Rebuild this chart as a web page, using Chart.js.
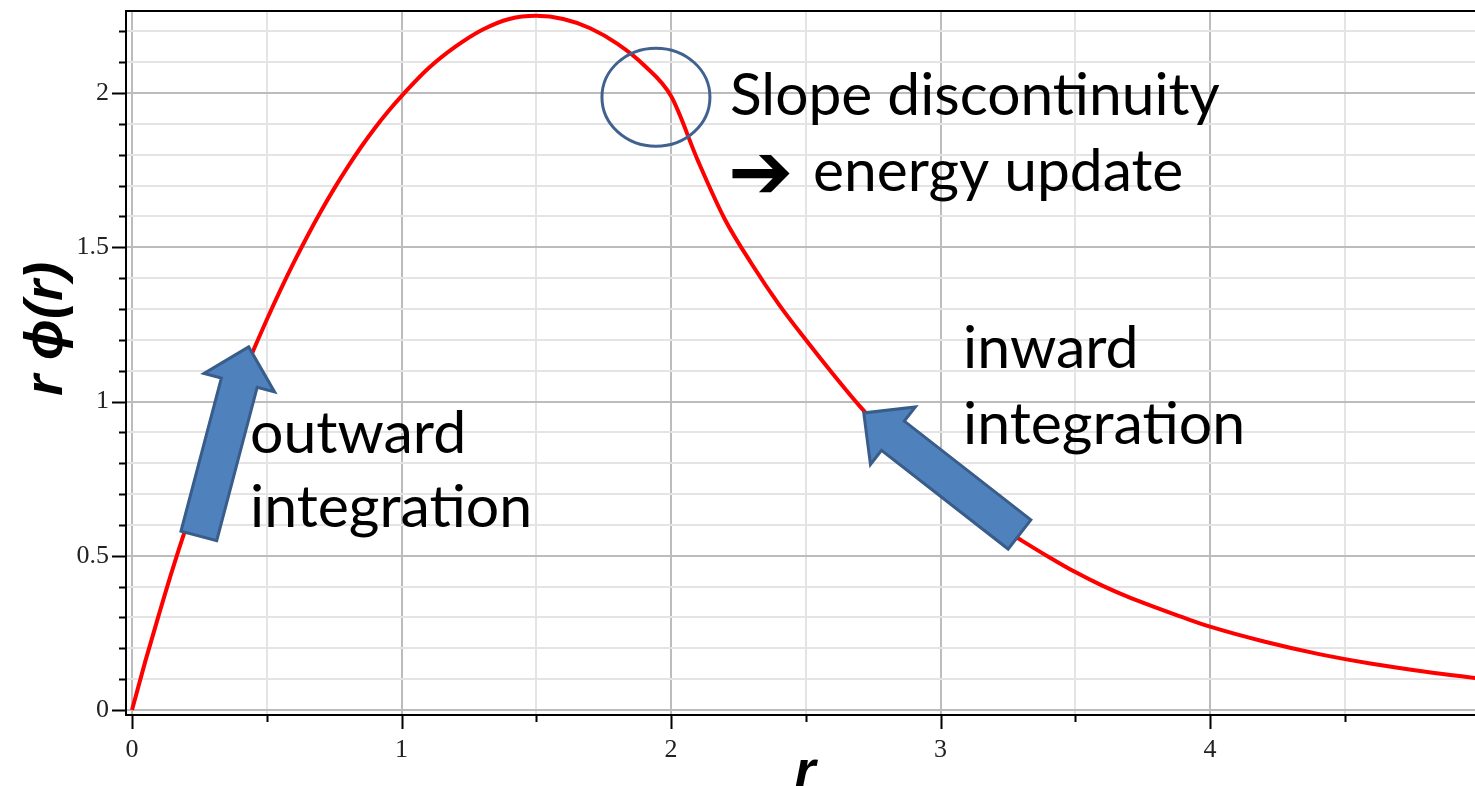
<!DOCTYPE html>
<html>
<head>
<meta charset="utf-8">
<title>r phi(r)</title>
<script src="https://cdn.jsdelivr.net/npm/chart.js@4.4.1/dist/chart.umd.min.js"></script>
<style>
    html, body { margin: 0; padding: 0; background: #fff; }
    canvas { display: block; }
</style>
</head>
<body>
<canvas id="myChart" width="1475" height="786"></canvas>
<script>
// radial grid and r*phi(r) from the shooting solution
let r_values = [0, 0.05, 0.1, 0.15, 0.2, 0.25, 0.3, 0.35, 0.4, 0.45, 0.5, 0.55, 0.6, 0.65, 0.7, 0.75, 0.8, 0.85, 0.9, 0.95,
    1.0, 1.1, 1.2, 1.3, 1.4, 1.5, 1.6, 1.7, 1.8, 1.9, 2.0, 2.1, 2.2, 2.3, 2.4, 2.5, 2.6, 2.7, 2.8, 2.9,
    3.0, 3.1, 3.2, 3.3, 3.4, 3.5, 3.6, 3.7, 3.8, 3.9, 4.0, 4.2, 4.4, 4.6, 4.8, 5.0];
let rphi_values = [0, 0.16, 0.31, 0.455, 0.59, 0.715, 0.835, 0.95, 1.06, 1.165, 1.265, 1.36, 1.45, 1.535, 1.615, 1.69, 1.76, 1.825, 1.885, 1.94,
    1.99, 2.08, 2.15, 2.205, 2.24, 2.25, 2.24, 2.21, 2.16, 2.09, 1.99, 1.78, 1.59, 1.445, 1.315, 1.2, 1.09, 0.985, 0.89, 0.805,
    0.73, 0.665, 0.605, 0.55, 0.497, 0.447, 0.403, 0.365, 0.332, 0.30, 0.27, 0.222, 0.182, 0.15, 0.124, 0.102];

let x_ticks = [0, 0.5, 1, 1.5, 2, 2.5, 3, 3.5, 4, 4.5];
let y_ticks = [0, 0.1, 0.2, 0.3, 0.4, 0.5, 0.6, 0.7, 0.8, 0.9, 1, 1.1, 1.2, 1.3, 1.4, 1.5, 1.6, 1.7, 1.8, 1.9, 2, 2.1, 2.2];

// annotation anchors, in (r, r*phi) units
let kink_point = [1.944, 1.993];
let outward_arrow = { from: [0.248, 0.564], to: [0.433, 1.177] };
let inward_arrow = { from: [3.293, 0.569], to: [2.715, 0.963] };

function isMajorX(v) { return Math.abs(v - Math.round(v)) < 1e-6; }
function isMajorY(v) { return Math.abs(v * 2 - Math.round(v * 2)) < 1e-6; }

function fitSize(ctx, text, font, width) {
    ctx.font = font.replace('SIZE', '100px');
    return 100 * width / ctx.measureText(text).width;
}

function blockArrow(ctx, x0, y0, x1, y1) {
    let shaftW = 37, headW = 73, headL = 37;
    let len = Math.hypot(x1 - x0, y1 - y0);
    let ux = (x1 - x0) / len, uy = (y1 - y0) / len;
    let nx = -uy, ny = ux;
    let bx = x1 - ux * headL, by = y1 - uy * headL;
    ctx.beginPath();
    ctx.moveTo(x0 + nx * shaftW / 2, y0 + ny * shaftW / 2);
    ctx.lineTo(bx + nx * shaftW / 2, by + ny * shaftW / 2);
    ctx.lineTo(bx + nx * headW / 2, by + ny * headW / 2);
    ctx.lineTo(x1, y1);
    ctx.lineTo(bx - nx * headW / 2, by - ny * headW / 2);
    ctx.lineTo(bx - nx * shaftW / 2, by - ny * shaftW / 2);
    ctx.lineTo(x0 - nx * shaftW / 2, y0 - ny * shaftW / 2);
    ctx.closePath();
    ctx.fillStyle = '#4f81bd';
    ctx.fill();
    ctx.lineWidth = 3;
    ctx.lineJoin = 'miter';
    ctx.strokeStyle = '#385d8a';
    ctx.stroke();
}

const decorations = {
    id: 'decorations',
    afterDraw(chart) {
        let ctx = chart.ctx;
        let area = chart.chartArea;
        let xs = chart.scales.x, ys = chart.scales.y;
        let px = v => xs.getPixelForValue(v);
        let py = v => ys.getPixelForValue(v);
        ctx.save();

        // frame line along the top
        ctx.strokeStyle = '#000';
        ctx.lineWidth = 2;
        ctx.beginPath();
        ctx.moveTo(area.left - 1, area.top);
        ctx.lineTo(area.right, area.top);
        ctx.stroke();

        // tick marks
        ctx.beginPath();
        ys.ticks.forEach(t => {
            let y = Math.round(py(t.value)) + 0.5;
            let len = isMajorY(t.value) ? 14 : 7;
            ctx.moveTo(area.left - len, y);
            ctx.lineTo(area.left, y);
        });
        xs.ticks.forEach(t => {
            let x = Math.round(px(t.value)) + 0.5;
            let len = isMajorX(t.value) ? 14 : 7;
            ctx.moveTo(x, area.bottom);
            ctx.lineTo(x, area.bottom + len);
        });
        ctx.stroke();

        // axis titles
        ctx.fillStyle = '#000';
        ctx.font = 'italic bold 54px "Liberation Sans", Arial, sans-serif';
        ctx.textAlign = 'center';
        ctx.textBaseline = 'alphabetic';
        ctx.fillText('r', 805, 788);
        ctx.save();
        ctx.translate(62, 329);
        ctx.rotate(-Math.PI / 2);
        ctx.fillText('r \u03d5(r)', 0, 0);
        ctx.restore();

        // block arrows
        blockArrow(ctx, px(outward_arrow.from[0]), py(outward_arrow.from[1]), px(outward_arrow.to[0]), py(outward_arrow.to[1]));
        blockArrow(ctx, px(inward_arrow.from[0]), py(inward_arrow.from[1]), px(inward_arrow.to[0]), py(inward_arrow.to[1]));

        // circle round the matching point
        ctx.beginPath();
        ctx.ellipse(px(kink_point[0]), py(kink_point[1]) + 2, 54, 49, 0, 0, Math.PI * 2);
        ctx.lineWidth = 3;
        ctx.strokeStyle = '#41618f';
        ctx.stroke();

        // notes
        let family = 'SIZE Lato, "Open Sans", sans-serif';
        let size = fitSize(ctx, 'integration', family, 282);
        ctx.font = family.replace('SIZE', size.toFixed(1) + 'px');
        ctx.textAlign = 'left';
        ctx.fillStyle = '#000';
        ctx.fillText('outward', 250, 453);
        ctx.fillText('integration', 250, 527);
        ctx.fillText('inward', 963, 368);
        ctx.fillText('integration', 963, 444);

        let s2 = fitSize(ctx, 'Slope discontinuity', family, 490);
        ctx.font = family.replace('SIZE', s2.toFixed(1) + 'px');
        ctx.fillText('Slope discontinuity', 730, 115);
        ctx.fillText('energy update', 813, 191);

        ctx.font = 'bold 78px "DejaVu Sans"';
        ctx.textBaseline = 'middle';
        ctx.fillText('\u2794', 728, 178);

        ctx.restore();
    }
};

function myChart() {
    let ctx = document.getElementById('myChart').getContext('2d');
    let points = r_values.map((r, i) => ({ x: r, y: rphi_values[i] }));
    let tickFont = { family: '"Liberation Serif", "Times New Roman", serif', size: 26 };
    new Chart(ctx, {
        type: 'line',
        data: {
            datasets: [{
                label: 'r phi(r)',
                data: points,
                borderColor: '#ff0000',
                backgroundColor: 'transparent',
                borderWidth: 4,
                pointRadius: 0,
                cubicInterpolationMode: 'monotone'
            }]
        },
        options: {
            responsive: false,
            devicePixelRatio: 1,
            animation: false,
            layout: { padding: { top: 11, right: 0, bottom: 0, left: 0 } },
            plugins: {
                legend: { display: false },
                tooltip: { enabled: false }
            },
            scales: {
                x: {
                    type: 'linear',
                    min: -0.0223,
                    max: 4.983,
                    afterBuildTicks: axis => { axis.ticks = x_ticks.map(v => ({ value: v })); },
                    afterFit: axis => {
                        axis.height = 71;
                        axis.paddingLeft = 0;
                        axis.paddingRight = 0;
                    },
                    grid: {
                        color: c => isMajorX(c.tick.value) ? '#bcbcbc' : '#e4e4e4',
                        lineWidth: 2,
                        drawTicks: false
                    },
                    border: { display: true, color: '#000', width: 2 },
                    ticks: {
                        autoSkip: false,
                        maxRotation: 0,
                        padding: 20,
                        color: '#222',
                        font: tickFont,
                        callback: v => isMajorX(v) ? String(Math.round(v)) : ''
                    }
                },
                y: {
                    type: 'linear',
                    min: -0.0162,
                    max: 2.2658,
                    afterBuildTicks: axis => { axis.ticks = y_ticks.map(v => ({ value: v })); },
                    afterFit: axis => {
                        axis.width = 126;
                        axis.paddingTop = 0;
                        axis.paddingBottom = 0;
                    },
                    grid: {
                        color: c => isMajorY(c.tick.value) ? '#bcbcbc' : '#e4e4e4',
                        lineWidth: 2,
                        drawTicks: false
                    },
                    border: { display: true, color: '#000', width: 2 },
                    ticks: {
                        autoSkip: false,
                        padding: 17,
                        color: '#222',
                        font: tickFont,
                        callback: v => isMajorY(v) ? String(Math.round(v * 10) / 10) : ''
                    }
                }
            }
        },
        plugins: [decorations]
    });
}
myChart()
</script>
</body>
</html>
